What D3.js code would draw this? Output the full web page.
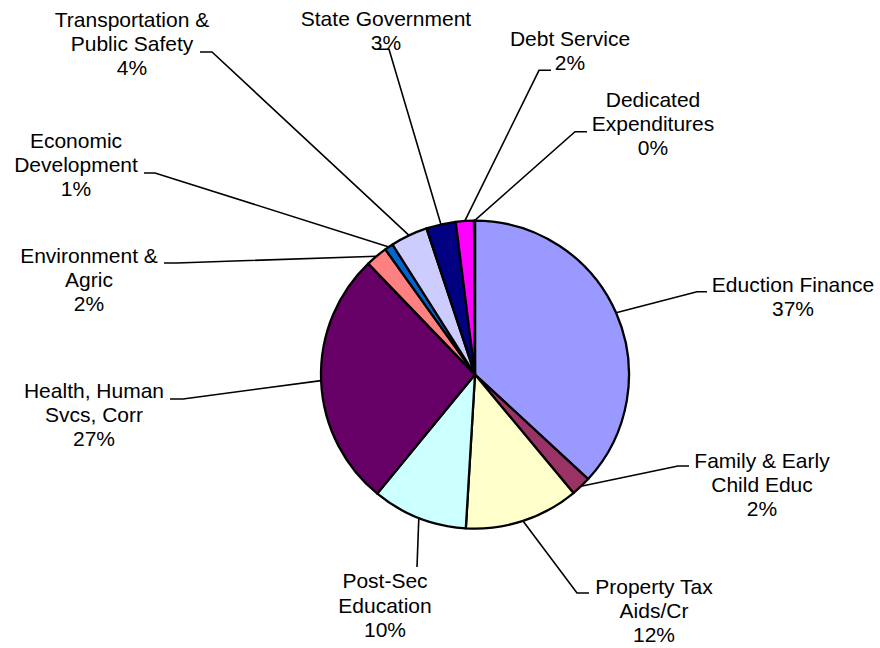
<!DOCTYPE html>
<html>
<head>
<meta charset="utf-8">
<script src="https://cdn.jsdelivr.net/npm/d3@7"></script>
<style>
  html, body { margin: 0; padding: 0; background: #fff; }
  svg { display: block; }
  text { font-family: "Liberation Sans", Arial, sans-serif; font-size: 21px; fill: #000; }
</style>
</head>
<body>
<svg id="chart" width="880" height="648"></svg>
<script>
// Budget categories, in clockwise order from 12 o'clock
const categories = [
  "Eduction Finance",
  "Family & Early Child Educ",
  "Property Tax Aids/Cr",
  "Post-Sec Education",
  "Health, Human Svcs, Corr",
  "Environment & Agric",
  "Economic Development",
  "Transportation & Public Safety",
  "State Government",
  "Debt Service",
  "Dedicated Expenditures"
];

// Share of spending for each category
const values = [36.9, 2.1, 12.0, 10.0, 26.9, 2.3, 0.9, 3.9, 3.1, 1.9, 0.1];

// How each label is broken over lines
const labelLines = [
  ["Eduction Finance"],
  ["Family & Early", "Child Educ"],
  ["Property Tax", "Aids/Cr"],
  ["Post-Sec", "Education"],
  ["Health, Human", "Svcs, Corr"],
  ["Environment &", "Agric"],
  ["Economic", "Development"],
  ["Transportation &", "Public Safety"],
  ["State Government"],
  ["Debt Service"],
  ["Dedicated", "Expenditures"]
];

const colors = ["#9999FF", "#993366", "#FFFFCC", "#CCFFFF", "#660066", "#FF8080",
                "#0066CC", "#CCCCFF", "#000080", "#FF00FF", "#FFFF00"];

// Label placement: text centre x, first baseline y, and leader stub
// [x at label side, x at pie side, y]
const labelLayout = [
  { cx: 793, by: 291.7, stub: [707, 697, 291.7] },
  { cx: 762, by: 467.5, stub: [689, 678, 466] },
  { cx: 654, by: 594,   stub: [589, 577, 593] },
  { cx: 385, by: 588.3, stub: [417, 417, 567] },
  { cx: 94,  by: 398,   stub: [170, 183, 399] },
  { cx: 89,  by: 262.7, stub: [164, 177, 263] },
  { cx: 76,  by: 147.5, stub: [144, 155, 173] },
  { cx: 132, by: 27,    stub: [200, 212, 52] },
  { cx: 386, by: 25.5,  stub: [379, 389, 49.3] },
  { cx: 570, by: 46,    stub: [551, 539, 70.3] },
  { cx: 653, by: 106.7, stub: [587, 575, 131.7] }
];

const width = 880, height = 648;
const cx = 475, cy = 374.6, radius = 154;
const lineGap = 24.2;

const svg = d3.select("#chart");
const total = d3.sum(values);

const pie = d3.pie().sort(null).value(d => d)(values);
const arc = d3.arc().innerRadius(0).outerRadius(radius);

const g = svg.append("g").attr("transform", `translate(${cx},${cy})`);

// Slices
g.selectAll("path.slice")
  .data(pie)
  .join("path")
  .attr("class", "slice")
  .attr("d", arc)
  .attr("fill", (d, i) => colors[i])
  .attr("stroke", "#000")
  .attr("stroke-width", 2.3)
  .attr("stroke-linejoin", "round");

// Leader lines: short stub by the label, then a straight run to the arc midpoint
const leaders = svg.append("g")
  .attr("fill", "none")
  .attr("stroke", "#000")
  .attr("stroke-width", 1.6);

pie.forEach((d, i) => {
  const a = (d.startAngle + d.endAngle) / 2;
  const px = cx + Math.sin(a) * radius;
  const py = cy - Math.cos(a) * radius;
  const s = labelLayout[i].stub;
  leaders.append("path")
    .attr("d", d3.line()([[s[0], s[2]], [s[1], s[2]], [px, py]]));
});

// Labels with rounded percentages
const labels = svg.append("g");
categories.forEach((name, i) => {
  const lay = labelLayout[i];
  const pct = Math.round(values[i] / total * 100) + "%";
  const lines = labelLines[i].concat([pct]);
  const t = labels.append("text")
    .attr("text-anchor", "middle");
  lines.forEach((ln, k) => {
    t.append("tspan")
      .attr("x", lay.cx)
      .attr("y", lay.by + k * lineGap)
      .text(ln);
  });
});
</script>
</body>
</html>
